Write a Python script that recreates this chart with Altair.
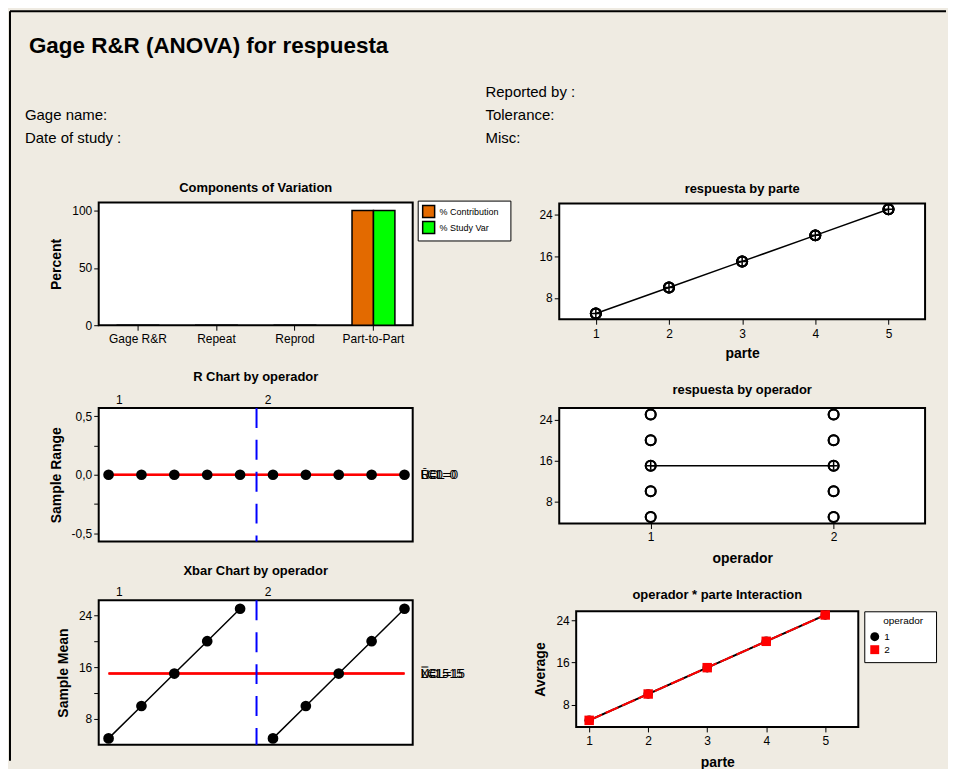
import altair as alt
import pandas as pd

FONT = "Liberation Sans"
BG = "#EFEBE2"
BLANK = "\u2800"   # blank glyph used to widen legend boxes

# ---------------- data ----------------
componentes = ["Gage R&R", "Repeat", "Reprod", "Part-to-Part"]
medidas = ["% Contribution", "% Study Var"]
pct_contribution = [0, 0, 0, 100]
pct_study_var = [0, 0, 0, 100]

partes = [1, 2, 3, 4, 5]
operadores = ["1", "2"]
resp_op1_ensayo1 = [5, 10, 15, 20, 25]
resp_op1_ensayo2 = [5, 10, 15, 20, 25]
resp_op2_ensayo1 = [5, 10, 15, 20, 25]
resp_op2_ensayo2 = [5, 10, 15, 20, 25]

op_label_x = [1.33, 5.85]          # operator labels above the control charts
A2, D3, D4 = 1.880, 0.0, 3.267     # control chart constants, n = 2

# ---------------- tables ----------------
rows = []
ensayos_por_op = [[resp_op1_ensayo1, resp_op1_ensayo2], [resp_op2_ensayo1, resp_op2_ensayo2]]
for op, ensayos in zip(operadores, ensayos_por_op):
    for k, ens in enumerate(ensayos):
        for p, v in zip(partes, ens):
            rows.append({"operador": op, "opnum": int(op), "parte": p, "ensayo": k + 1, "respuesta": v})
meas = pd.DataFrame(rows)

samp = (meas.groupby(["operador", "opnum", "parte"], as_index=False)
        .agg(xbar=("respuesta", "mean"), rmax=("respuesta", "max"), rmin=("respuesta", "min")))
samp["rango"] = samp["rmax"] - samp["rmin"]
samp = samp.sort_values(["opnum", "parte"]).reset_index(drop=True)
samp["muestra"] = range(1, len(samp) + 1)

rbar = samp["rango"].mean()
xbb = samp["xbar"].mean()
x_ini, x_fin = samp["muestra"].min(), samp["muestra"].max()
lim_r = pd.DataFrame({
    "valor": [D4 * rbar, rbar, D3 * rbar],
    "label": [f"UCL={D4 * rbar:g}", f"R\u0304={rbar:g}", f"LCL={D3 * rbar:g}"],
    "x_ini": x_ini, "x_fin": x_fin})
lim_x = pd.DataFrame({
    "valor": [xbb + A2 * rbar, xbb, xbb - A2 * rbar],
    "label": [f"UCL={xbb + A2 * rbar:g}", f"X\u033F={xbb:g}", f"LCL={xbb - A2 * rbar:g}"],
    "x_ini": x_ini, "x_fin": x_fin})
div_df = pd.DataFrame({"limite": [samp.loc[samp["operador"] == "1", "muestra"].max() + 0.5]})
oplab_df = pd.DataFrame({"op": operadores, "pos": op_label_x})

comp_df = pd.DataFrame({
    "componente": componentes * 2,
    "medida": [medidas[0]] * 4 + [medidas[1]] * 4,
    "valor": pct_contribution + pct_study_var})

one = pd.DataFrame({"t": [0]})

W_L, W_R = 315, 367
PLUS = "M-1,0H1M0,-1V1"


def txt(s, x, y, size=15, weight="normal", align="left"):
    return alt.Chart(pd.DataFrame({"t": [s]})).mark_text(
        align=align, baseline="alphabetic", fontSize=size, fontWeight=weight,
        color="black", font=FONT).encode(x=alt.value(x), y=alt.value(y), text="t:N")


def ptitle(s, cx, y):
    return txt(s, cx, y, size=13, weight="bold", align="center")


def frame(x0, x1, y0, y1):
    return alt.Chart(one).mark_rect(fill="white", stroke="black", strokeWidth=2).encode(
        x=alt.value(x0), x2=alt.value(x1), y=alt.value(y0), y2=alt.value(y1))


# ---------------- A: components of variation (cell 315 x 123) ----------------
bars = alt.Chart(comp_df).mark_bar(stroke="black", strokeWidth=1.5).encode(
    x=alt.X("componente:N", sort=componentes, title=None,
            scale=alt.Scale(paddingInner=0, paddingOuter=0),
            axis=alt.Axis(labelAngle=0, labelPadding=3)),
    xOffset=alt.XOffset("medida:N", sort=medidas,
                        scale=alt.Scale(paddingInner=0, paddingOuter=0.83)),
    y=alt.Y("valor:Q", scale=alt.Scale(domain=[0, 107], nice=False),
            axis=alt.Axis(values=[0, 50, 100], title="Percent", titlePadding=8)),
    color=alt.Color("medida:N", scale=alt.Scale(domain=medidas, range=["#E36A00", "#00FF00"]),
                    legend=alt.Legend(title=None, orient="none", legendX=320, legendY=-2,
                                      symbolType="square", symbolSize=144,
                                      symbolStrokeColor="black", symbolStrokeWidth=1.5,
                                      symbolOpacity=1, labelFontSize=9, labelColor="black",
                                      labelExpr=f"datum.label + '{BLANK}'",
                                      fillColor="white", strokeColor="black",
                                      padding=4, rowPadding=-4, labelOffset=4)))

header = [
    txt("Gage R&R (ANOVA) for respuesta", -70, -150, size=22.5, weight="bold"),
    txt("Reported by :", 388, -106),
    txt("Gage name:", -74, -83),
    txt("Tolerance:", 388, -83),
    txt("Date of study :", -74, -60),
    txt("Misc:", 388, -60),
]
border_top = alt.Chart(one).mark_rule(color="black", strokeWidth=2).encode(
    x=alt.value(-89), x2=alt.value(850), y=alt.value(-192))
border_left = alt.Chart(one).mark_rule(color="black", strokeWidth=2).encode(
    x=alt.value(-89), y=alt.value(-192), y2=alt.value(560))

A = alt.layer(frame(0, W_L, 0, 123), bars, border_top, border_left, *header,
              ptitle("Components of Variation", W_L / 2, -11)).properties(width=W_L, height=123)

# ---------------- B: R chart (cell 315 x 158, plot y 24..158) ----------------
samp_scale = alt.Scale(domain=[0.7, 10.25], nice=False, zero=False)
yB_scale = alt.Scale(domain=[-0.57, 0.57], nice=False, zero=False, range=[158, 24])
yB_axis = alt.Axis(values=[-0.5, -0.25, 0, 0.25, 0.5], title="Sample Range", titlePadding=8,
                   labelExpr="abs(datum.value) == 0.25 ? '' : (datum.value == 0 ? '0,0' : replace(toString(datum.value), '.', ','))")


def xs(field):
    return alt.X(field, scale=samp_scale, axis=None)


def yb(field):
    return alt.Y(field, scale=yB_scale, axis=yB_axis)


B = alt.layer(
    frame(0, W_L, 24, 158),
    alt.Chart(samp).mark_line(color="black", strokeWidth=1.5).encode(x=xs("muestra:Q"), y=yb("rango:Q")),
    alt.Chart(lim_r).mark_rule(color="red", strokeWidth=2).encode(x=xs("x_ini:Q"), x2="x_fin:Q", y=yb("valor:Q")),
    alt.Chart(samp).mark_circle(color="black", size=115, opacity=1).encode(x=xs("muestra:Q"), y=yb("rango:Q")),
    alt.Chart(div_df).mark_rule(color="#0000FF", strokeWidth=2, strokeDash=[20, 12]).encode(
        x=xs("limite:Q"), y=alt.value(24), y2=alt.value(158)),
    alt.Chart(lim_r).mark_text(align="left", baseline="middle", fontSize=12, color="black").encode(
        x=alt.value(W_L + 8), y=yb("valor:Q"), text="label:N"),
    alt.Chart(oplab_df).mark_text(baseline="alphabetic", fontSize=12, color="black").encode(
        x=xs("pos:Q"), y=alt.value(20), text="op:N"),
    ptitle("R Chart by operador", W_L / 2, -3),
).properties(width=W_L, height=158)

# ---------------- C: Xbar chart (cell 315 x 145) ----------------
yC_scale = alt.Scale(domain=[4, 26.3], nice=False, zero=False)
yC_axis = alt.Axis(values=[8, 12, 16, 20, 24], title="Sample Mean", titlePadding=8,
                   labelExpr="datum.value % 8 == 0 ? datum.label : ''")


def yc(field):
    return alt.Y(field, scale=yC_scale, axis=yC_axis)


C = alt.layer(
    frame(0, W_L, 0, 145),
    alt.Chart(samp).mark_line(color="black", strokeWidth=1.5).encode(
        x=xs("muestra:Q"), y=yc("xbar:Q"), detail="operador:N"),
    alt.Chart(lim_x).mark_rule(color="red", strokeWidth=2).encode(x=xs("x_ini:Q"), x2="x_fin:Q", y=yc("valor:Q")),
    alt.Chart(samp).mark_circle(color="black", size=115, opacity=1).encode(x=xs("muestra:Q"), y=yc("xbar:Q")),
    alt.Chart(div_df).mark_rule(color="#0000FF", strokeWidth=2, strokeDash=[20, 12]).encode(
        x=xs("limite:Q"), y=alt.value(0), y2=alt.value(145)),
    alt.Chart(lim_x).mark_text(align="left", baseline="middle", fontSize=12, color="black").encode(
        x=alt.value(W_L + 8), y=yc("valor:Q"), text="label:N"),
    alt.Chart(oplab_df).mark_text(baseline="alphabetic", fontSize=12, color="black").encode(
        x=xs("pos:Q"), y=alt.value(-4), text="op:N"),
    ptitle("Xbar Chart by operador", W_L / 2, -25),
).properties(width=W_L, height=145)

# ---------------- D: respuesta by parte (cell 367 x 123, plot y 1..117) ----------------
xD = alt.X("parte:Q", scale=alt.Scale(domain=[0.5, 5.5], nice=False, zero=False),
           axis=alt.Axis(values=partes, format="d", title="parte", labelPadding=4, titlePadding=7, offset=-6))
yD = alt.Y("respuesta:Q", scale=alt.Scale(domain=[3.9, 26.1], nice=False, zero=False, range=[117, 1]),
           axis=alt.Axis(values=[8, 16, 24], title=None))
D = alt.layer(
    frame(0, W_R, 1, 117),
    alt.Chart(meas).transform_aggregate(respuesta="mean(respuesta)", groupby=["parte"])
    .mark_line(color="black", strokeWidth=1.5).encode(x=xD, y=yD),
    alt.Chart(meas).mark_point(shape="circle", filled=False, color="black", strokeWidth=2,
                               size=100, opacity=1).encode(x=xD, y=yD),
    alt.Chart(meas).transform_aggregate(respuesta="mean(respuesta)", groupby=["parte"])
    .mark_point(shape=PLUS, filled=False, color="black", strokeWidth=1.5, size=64, opacity=1)
    .encode(x=xD, y=yD),
    ptitle("respuesta by parte", W_R / 2, -10),
).properties(width=W_R, height=123)

# ---------------- E: respuesta by operador (cell 367 x 158, plot y 24..140) ----------------
xE = alt.X("opnum:Q", scale=alt.Scale(domain=[0.5, 2.5], nice=False, zero=False),
           axis=alt.Axis(values=[1, 2], format="d", title="operador", labelPadding=3, titlePadding=9, offset=-18))
yE = alt.Y("respuesta:Q", scale=alt.Scale(domain=[3.7, 26.3], nice=False, zero=False, range=[140, 24]),
           axis=alt.Axis(values=[8, 16, 24], title=None))
E = alt.layer(
    frame(0, W_R, 24, 140),
    alt.Chart(meas).transform_aggregate(respuesta="mean(respuesta)", groupby=["opnum"])
    .mark_line(color="black", strokeWidth=1.5).encode(x=xE, y=yE),
    alt.Chart(meas).mark_point(shape="circle", filled=False, color="black", strokeWidth=2,
                               size=100, opacity=1).encode(x=xE, y=yE),
    alt.Chart(meas).transform_aggregate(respuesta="mean(respuesta)", groupby=["opnum"])
    .mark_point(shape=PLUS, filled=False, color="black", strokeWidth=1.5, size=64, opacity=1)
    .encode(x=xE, y=yE),
    ptitle("respuesta by operador", W_R / 2, 10),
).properties(width=W_R, height=158)

# ---------------- F: interaction (cell 367 x 145, plot x 17..300, y 11..127) ----------------
xF = alt.X("parte:Q", scale=alt.Scale(domain=[0.78, 5.56], nice=False, zero=False, range=[17, 300]),
           axis=alt.Axis(values=partes, format="d", title="parte", labelPadding=4, titlePadding=9, offset=-18))
yF = alt.Y("xbar:Q", scale=alt.Scale(domain=[3.75, 25.7], nice=False, zero=False, range=[127, 11]),
           axis=alt.Axis(values=[8, 16, 24], title="Average", titlePadding=8, offset=-17))
legF = alt.Legend(title=BLANK * 2 + "operador" + BLANK, orient="none", legendX=306, legendY=11,
                  titleFontSize=10, titleFontWeight="normal", titleColor="black",
                  labelFontSize=10, labelColor="black", fillColor="white", strokeColor="black",
                  padding=5, symbolSize=80, rowPadding=-2, titlePadding=5, symbolOpacity=1)
F = alt.layer(
    frame(17, 300, 11, 127),
    alt.Chart(samp).mark_line(strokeWidth=2).encode(
        x=xF, y=yF,
        stroke=alt.Stroke("operador:N", scale=alt.Scale(domain=operadores, range=["black", "red"]), legend=None),
        strokeDash=alt.StrokeDash("operador:N", scale=alt.Scale(domain=operadores, range=[[1, 0], [14, 4]]),
                                  legend=None)),
    alt.Chart(samp).mark_point(filled=True, size=90, opacity=1).encode(
        x=xF, y=yF,
        color=alt.Color("operador:N", scale=alt.Scale(domain=operadores, range=["black", "red"]), legend=legF),
        shape=alt.Shape("operador:N", scale=alt.Scale(domain=operadores, range=["circle", "square"]), legend=legF)),
    ptitle("operador * parte Interaction", 158.5, -1),
).properties(width=W_R, height=145)

chart = alt.concat(
    A, D, B, E, C, F, columns=2, spacing={"row": 59, "column": 147}, bounds="flush",
    padding=0, background=BG
).resolve_scale(
    color="independent", shape="independent"
).configure(
    font=FONT
).configure_view(
    stroke="transparent", fill="transparent"
).configure_axis(
    domain=False, grid=False, tickColor="black", tickSize=5, tickWidth=1,
    labelColor="black", labelFontSize=12, labelPadding=2, labelFont=FONT,
    titleColor="black", titleFontSize=14, titleFontWeight="bold", titleFont=FONT
)

chart.save("out.html", embed_options={"renderer": "svg", "actions": False})
